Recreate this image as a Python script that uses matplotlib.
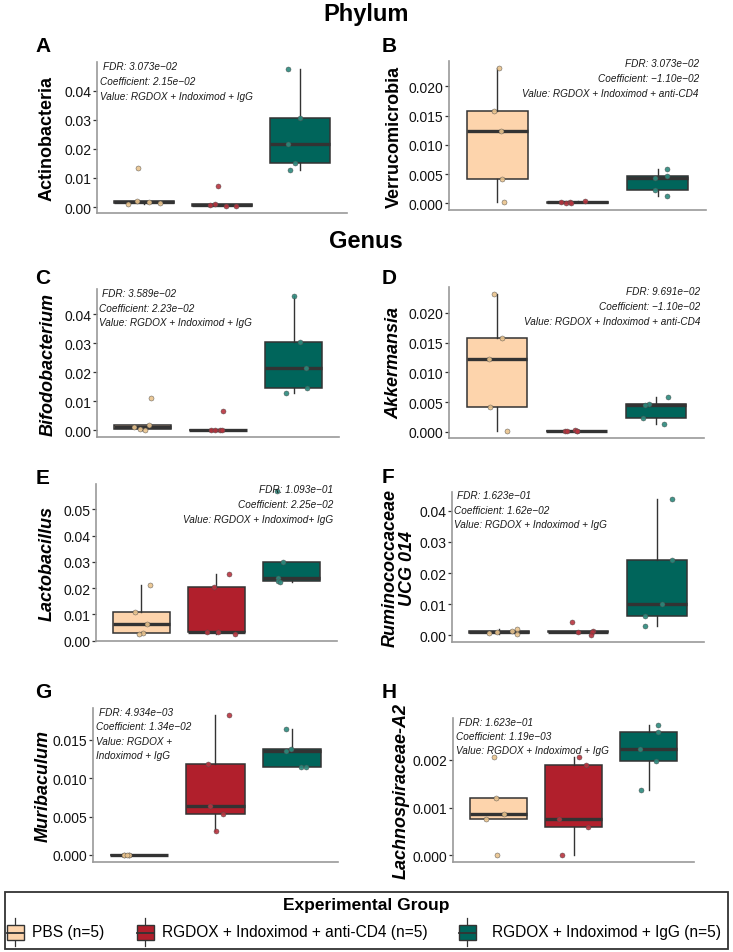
import matplotlib
matplotlib.use('Agg')
import matplotlib.pyplot as plt
from matplotlib.ticker import MultipleLocator, FormatStrFormatter
from matplotlib.patches import Rectangle
from matplotlib.lines import Line2D

plt.rcParams['font.family'] = ['Liberation Sans', 'DejaVu Sans']

W, H = 733, 953

# ---------------- data ----------------
groups = ['PBS (n=5)', 'RGDOX + Indoximod + anti-CD4 (n=5)', 'RGDOX + Indoximod + IgG (n=5)']
box_colors = ['#FDD4AC', '#B11F2C', '#00655B']
point_colors = ['#E9C38D', '#B8343F', '#2C8A7D']

# A  Actinobacteria
actino_pbs = [0.0134, 0.0022, 0.0012, 0.0017, 0.0013]
actino_cd4 = [0.0071, 0.0010, 0.0005, 0.0003, 0.0008]
actino_igg = [0.0476, 0.0307, 0.0216, 0.0150, 0.0128]
# B  Verrucomicrobia
verru_pbs = [0.0232, 0.0158, 0.0123, 0.0041, 0.0002]
verru_cd4 = [0.0002, 0.0000, 0.0002, 0.0001, 0.0003]
verru_igg = [0.0058, 0.0047, 0.0044, 0.0023, 0.0013]
# C  Bifodobacterium
bifido_pbs = [0.0111, 0.0017, 0.0011, 0.0003, 0.0002]
bifido_cd4 = [0.0067, 0.0001, 0.0001, 0.0002, 0.0000]
bifido_igg = [0.0463, 0.0303, 0.0214, 0.0146, 0.0127]
# D  Akkermansia
akk_pbs = [0.0232, 0.0157, 0.0123, 0.0041, 0.0002]
akk_cd4 = [0.0001, 0.0002, 0.0003, 0.0002, 0.0001]
akk_igg = [0.0059, 0.0046, 0.0045, 0.0023, 0.0013]
# E  Lactobacillus
lacto_pbs = [0.0212, 0.0109, 0.0063, 0.0031, 0.0026]
lacto_cd4 = [0.0254, 0.0204, 0.0033, 0.0032, 0.0026]
lacto_igg = [0.0569, 0.0301, 0.0240, 0.0226, 0.0224]
# F  Ruminococcaceae UCG 014
rumino_pbs = [0.0021, 0.0014, 0.0005, 0.0009, 0.0007]
rumino_cd4 = [0.0043, 0.0011, 0.0013, 0.0009, 0.0000]
rumino_igg = [0.0439, 0.0241, 0.0101, 0.0063, 0.0029]
# G  Muribaculum
muri_pbs = [0.0, 0.0, 0.0, 0.0, 0.0]
muri_cd4 = [0.01826, 0.01183, 0.00634, 0.0054, 0.0031]
muri_igg = [0.01646, 0.01389, 0.01359, 0.01149, 0.01149]
# H  Lachnospiraceae-A2
lachno_pbs = [0.00205, 0.00120, 0.00086, 0.00077, 0.0]
lachno_cd4 = [0.00205, 0.00188, 0.00077, 0.00060, 0.0]
lachno_igg = [0.00273, 0.00257, 0.00221, 0.00197, 0.00137]

# jitter offsets (category units)
jit_A = [[-0.08, -0.09, -0.20, 0.07, 0.20], [-0.05, -0.09, 0.18, 0.05, -0.15], [-0.15, 0.0, -0.15, -0.07, -0.13]]
jit_B = [[0.02, -0.04, 0.05, 0.06, 0.09], [-0.20, -0.14, -0.09, -0.08, 0.09], [0.11, 0.12, -0.04, -0.04, 0.12]]
jit_C = [[0.11, 0.09, -0.11, -0.03, 0.04], [0.07, -0.09, 0.03, 0.05, -0.04], [0.0, 0.09, 0.16, 0.18, -0.10]]
jit_D = [[-0.04, 0.07, -0.10, -0.09, 0.125], [-0.14, -0.12, -0.02, 0.0, 0.01], [0.15, -0.09, -0.14, -0.16, 0.10]]
jit_E = [[0.12, -0.08, 0.08, 0.03, -0.03], [0.16, -0.03, -0.13, 0.02, 0.24], [-0.20, -0.12, -0.19, -0.19, -0.16]]
jit_F = [[0.23, 0.16, 0.23, -0.03, -0.13], [-0.07, 0.0, 0.19, 0.18, 0.16], [0.19, 0.19, 0.07, -0.15, -0.15]]
jit_G = [[-0.19, -0.13, -0.19, -0.13, -0.16], [0.18, -0.10, -0.07, 0.10, 0.01], [-0.08, -0.02, -0.08, 0.12, 0.18]]
jit_H = [[-0.06, -0.035, 0.08, -0.16, -0.01], [0.07, 0.17, -0.19, 0.19, -0.15], [0.12, 0.12, -0.12, 0.09, -0.11]]

panels = [
    dict(letter='A', label='Actinobacteria', italic=False, data=[actino_pbs, actino_cd4, actino_igg], jit=jit_A,
         step=0.01, fmt='%.2f', rect=(97, 347, 63, 214), lab=(47, None), lett=(43, 46),
         ann=['FDR: 3.073e\u221202', 'Coefficient: 2.15e\u221202', 'Value: RGDOX + Indoximod + IgG'],
         ann_x=100, ann_y=[67, 82, 97], ha='left'),
    dict(letter='B', label='Verrucomicrobia', italic=False, data=[verru_pbs, verru_cd4, verru_igg], jit=jit_B,
         step=0.005, fmt='%.3f', rect=(449, 706, 62, 211), lab=(394, None), lett=(389, 46),
         ann=['FDR: 3.073e\u221202', 'Coefficient: \u22121.10e\u221202', 'Value: RGDOX + Indoximod + anti-CD4'],
         ann_x=699, ann_y=[64, 79, 94], ha='right'),
    dict(letter='C', label='Bifodobacterium', italic=True, data=[bifido_pbs, bifido_cd4, bifido_igg], jit=jit_C,
         step=0.01, fmt='%.2f', rect=(97, 339, 290, 438), lab=(48, None), lett=(43, 278),
         ann=['FDR: 3.589e\u221202', 'Coefficient: 2.23e\u221202', 'Value: RGDOX + Indoximod + IgG'],
         ann_x=99, ann_y=[294, 309, 323], ha='left'),
    dict(letter='D', label='Akkermansia', italic=True, data=[akk_pbs, akk_cd4, akk_igg], jit=jit_D,
         step=0.005, fmt='%.3f', rect=(449, 704, 288, 439), lab=(394, None), lett=(389, 278),
         ann=['FDR: 9.691e\u221202', 'Coefficient: \u22121.10e\u221202', 'Value: RGDOX + Indoximod + anti-CD4'],
         ann_x=700, ann_y=[292, 307, 322], ha='right'),
    dict(letter='E', label='Lactobacillus', italic=True, data=[lacto_pbs, lacto_cd4, lacto_igg], jit=jit_E,
         step=0.01, fmt='%.2f', rect=(96, 337, 485, 642), lab=(47, None), lett=(43, 479),
         ann=['FDR: 1.093e\u221201', 'Coefficient: 2.25e\u221202', 'Value: RGDOX + Indoximod+ IgG'],
         ann_x=333, ann_y=[490, 505, 520], ha='right'),
    dict(letter='F', label='Ruminococcaceae\nUCG 014', italic=True, data=[rumino_pbs, rumino_cd4, rumino_igg], jit=jit_F,
         step=0.01, fmt='%.2f', rect=(452, 704, 493, 643), lab=(399, None), lett=(388, 478),
         ann=['FDR: 1.623e\u221201', 'Coefficient: 1.62e\u221202', 'Value: RGDOX + Indoximod + IgG'],
         ann_x=454, ann_y=[496, 511, 525], ha='left'),
    dict(letter='G', label='Muribaculum', italic=True, data=[muri_pbs, muri_cd4, muri_igg], jit=jit_G,
         step=0.005, fmt='%.3f', rect=(93, 338, 709, 863), lab=(43, None), lett=(43, 692),
         ann=['FDR: 4.934e\u221203', 'Coefficient: 1.34e\u221202', 'Value: RGDOX +', 'Indoximod + IgG'],
         ann_x=96, ann_y=[713, 727, 742, 756], ha='left'),
    dict(letter='H', label='Lachnospiraceae-A2', italic=True, data=[lachno_pbs, lachno_cd4, lachno_igg], jit=jit_H,
         step=0.001, fmt='%.3f', rect=(453, 694, 719, 863), lab=(401, None), lett=(389, 692),
         ann=['FDR: 1.623e\u221201', 'Coefficient: 1.19e\u221203', 'Value: RGDOX + Indoximod + IgG'],
         ann_x=456, ann_y=[723, 737, 751], ha='left'),
]

fig = plt.figure(figsize=(W / 100, H / 100), dpi=100)


def fx(x):
    return x / W


def fy(y):
    return 1 - y / H


SPINE = '#9a9a9a'
DARK = '#333333'

for p in panels:
    l, r, t, b = p['rect']
    ax = fig.add_axes([fx(l), fy(b), fx(r) - fx(l), fy(t) - fy(b)])
    bp = ax.boxplot(p['data'], positions=[1, 2, 3], widths=0.76, patch_artist=True,
                    showfliers=False, showcaps=False, whis=1.5,
                    medianprops=dict(color=DARK, linewidth=2.4, solid_capstyle='butt'),
                    boxprops=dict(edgecolor=DARK, linewidth=1.1),
                    whiskerprops=dict(color=DARK, linewidth=1.0), zorder=2)
    for patch, c in zip(bp['boxes'], box_colors):
        patch.set_facecolor(c)
    for i, (vals, jit) in enumerate(zip(p['data'], p['jit'])):
        xs = [i + 1 + j for j in jit]
        ax.scatter(xs, vals, s=13, color=point_colors[i], edgecolors='#4d4d4d',
                   linewidths=0.35, alpha=0.9, zorder=4)
    ax.set_xlim(0.4, 3.6)
    ax.margins(y=0.05)
    ax.autoscale_view()
    ax.yaxis.set_major_locator(MultipleLocator(p['step']))
    ax.yaxis.set_major_formatter(FormatStrFormatter(p['fmt']))
    ax.set_xticks([])
    for s in ['top', 'right']:
        ax.spines[s].set_visible(False)
    for s in ['left', 'bottom']:
        ax.spines[s].set_color(SPINE)
        ax.spines[s].set_linewidth(1.2)
    ax.tick_params(axis='y', length=3, width=0.9, color=DARK, labelsize=10,
                   labelcolor='#111111', pad=1)
    ax.set_facecolor('none')
    # y label
    fig.text(fx(p['lab'][0]), fy((t + b) / 2), p['label'], rotation=90, ha='center', va='center',
             fontsize=13, fontweight='bold', fontstyle='italic' if p['italic'] else 'normal',
             linespacing=1.0, multialignment='center')
    # panel letter
    fig.text(fx(p['lett'][0]), fy(p['lett'][1]), p['letter'], ha='center', va='center',
             fontsize=15, fontweight='bold')
    # annotation
    for k, (txt, yy) in enumerate(zip(p['ann'], p['ann_y'])):
        xx = p['ann_x']
        if p['ha'] == 'left' and k == 0:
            xx += 3
        fig.text(fx(xx), fy(yy), txt, ha=p['ha'], va='center', fontsize=7.2,
                 fontstyle='italic', color='#1a1a1a')

# section titles
fig.text(fx(366), fy(15), 'Phylum', ha='center', va='center', fontsize=17, fontweight='bold')
fig.text(fx(366), fy(242), 'Genus', ha='center', va='center', fontsize=17, fontweight='bold')

# legend (drawn in a pixel-coordinate overlay)
lax = fig.add_axes([0, 0, 1, 1])
lax.set_xlim(0, W)
lax.set_ylim(H, 0)
lax.axis('off')
lax.add_patch(Rectangle((5, 893), 723, 57, fill=False, edgecolor=DARK, linewidth=1.3))
lax.text(366, 906, 'Experimental Group', ha='center', va='center', fontsize=12.5, fontweight='bold')
key_x = [15, 145, 467]
text_x = [32, 162, 492]
for kx, tx, c, g in zip(key_x, text_x, box_colors, groups):
    lax.add_line(Line2D([kx, kx], [919, 947], color=DARK, linewidth=0.9))
    lax.add_patch(Rectangle((kx - 8.5, 926), 17, 15, facecolor=c, edgecolor=DARK, linewidth=1.0, zorder=3))
    lax.add_line(Line2D([kx - 8.5, kx + 8.5], [933.5, 933.5], color=DARK, linewidth=1.3, zorder=4))
    lax.text(tx, 933, g, ha='left', va='center', fontsize=11.2)

fig.savefig('out.png', dpi=100)
